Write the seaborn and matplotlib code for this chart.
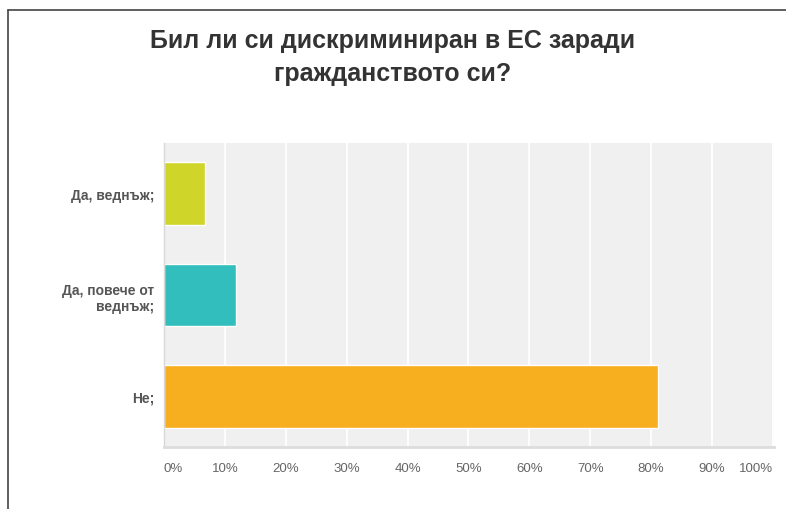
import matplotlib
matplotlib.use("Agg")
import matplotlib.pyplot as plt
import seaborn as sns
import pandas as pd
from matplotlib.lines import Line2D

title = "Бил ли си дискриминиран в ЕС заради\nгражданството си?"
categories = ["Да, веднъж;", "Да, повече от\nведнъж;", "Не;"]
values = [6.8, 11.8, 81.2]
colors = ["#d0d52a", "#33bebe", "#f7ae1f"]
x_ticks = [0, 10, 20, 30, 40, 50, 60, 70, 80, 90, 100]
x_tick_labels = [f"{t}%" for t in x_ticks]

df = pd.DataFrame({"answer": categories, "pct": values})

sns.set_style("white")
plt.rcParams["font.family"] = ["Liberation Sans", "DejaVu Sans"]

fig = plt.figure(figsize=(7.86, 5.10), dpi=100)
ax = fig.add_axes([164 / 786, 62 / 510, 610 / 786, 304 / 510])
ax.set_facecolor("#f0f0f0")

sns.barplot(data=df, y="answer", x="pct", hue="answer", palette=colors,
            orient="h", width=0.62, legend=False, ax=ax, saturation=1)

ax.set_xlim(0, 100.2)
ax.set_ylim(2.5, -0.5)
ax.set_xticks(x_ticks)
ax.set_xticklabels(x_tick_labels)
ax.grid(axis="x", color="white", lw=1.3)
ax.set_axisbelow(True)
ax.set_xlabel("")
ax.set_ylabel("")

for s in ["top", "right"]:
    ax.spines[s].set_visible(False)
ax.spines["bottom"].set_color("#dcdcdc")
ax.spines["bottom"].set_linewidth(2)
ax.spines["left"].set_color("#d8d8d8")
ax.spines["left"].set_linewidth(1)

ax.tick_params(axis="x", length=0, pad=11, labelsize=9.5, labelcolor="#666666")
ax.tick_params(axis="y", length=0, pad=7, labelsize=10, labelcolor="#555555")
for lab in ax.get_yticklabels():
    lab.set_fontweight("bold")
    lab.set_multialignment("right")
xl = ax.get_xticklabels()
xl[0].set_horizontalalignment("left")
xl[-1].set_horizontalalignment("right")

fig.text(0.5, 0.887, title, ha="center", va="center", fontsize=18,
         fontweight="bold", color="#333333", linespacing=1.45)

# screenshot frame on the left and top
fig.add_artist(Line2D([8 / 786, 8 / 786], [0, 1 - 11 / 510], color="#444444", lw=1.2))
fig.add_artist(Line2D([8 / 786, 1], [1 - 11 / 510, 1 - 11 / 510], color="#444444", lw=1.2))

fig.savefig("out.png", dpi=100)
